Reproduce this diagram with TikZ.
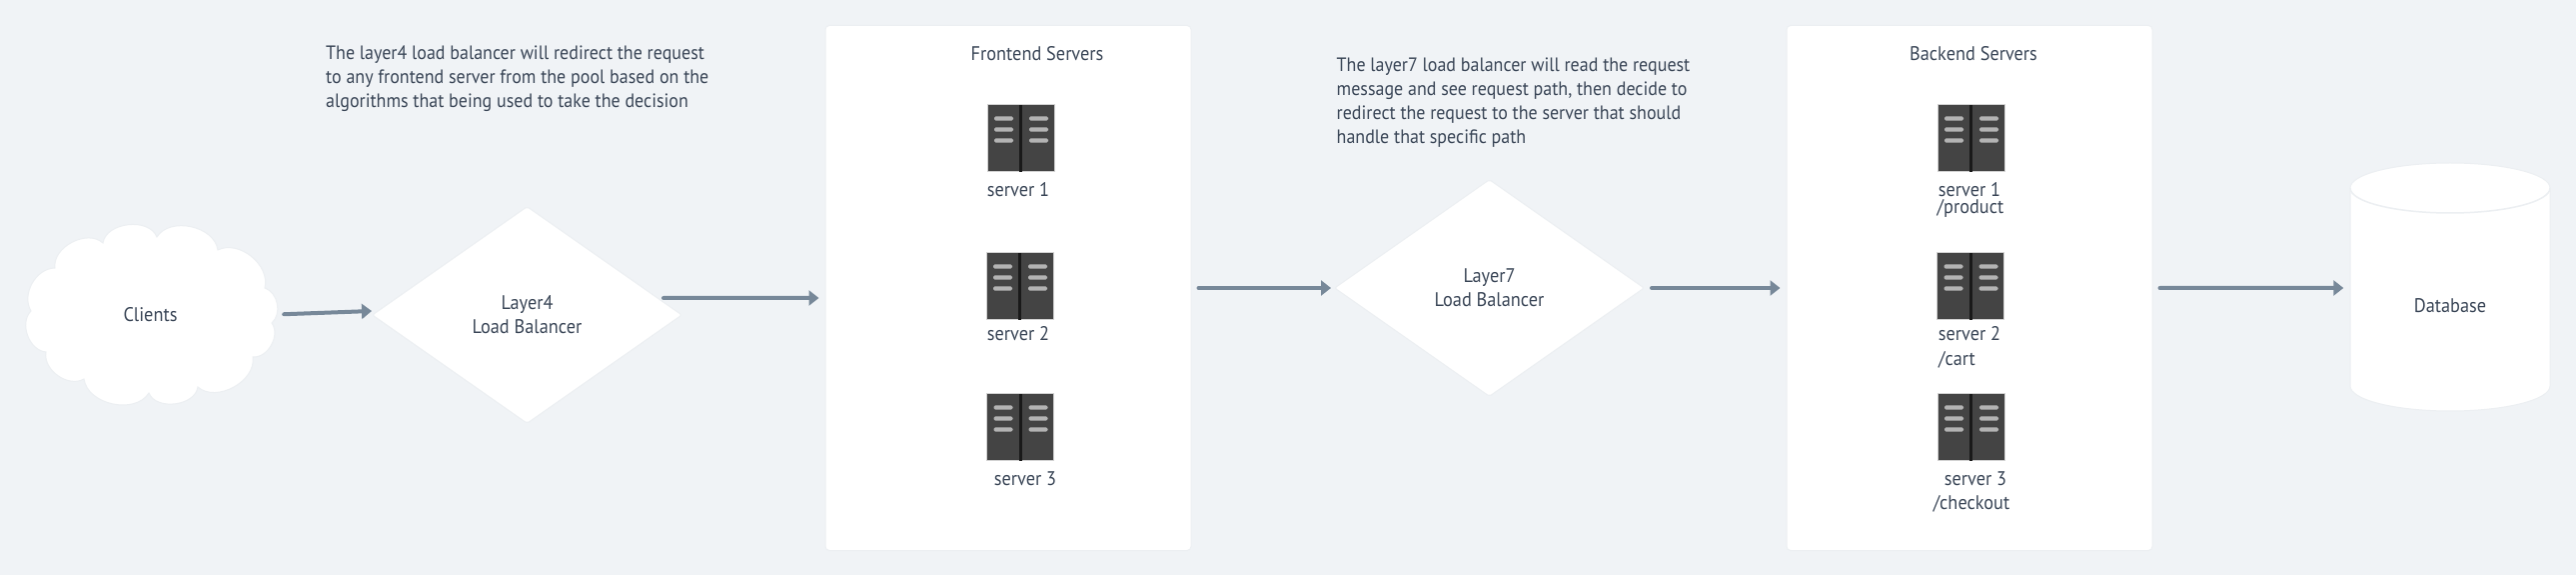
\documentclass[tikz,border=0pt]{standalone}
\usepackage{fontspec}
\setmainfont[FakeStretch=0.93]{PT Sans}
\usetikzlibrary{shapes.geometric,arrows.meta,positioning}
\definecolor{pagebg}{HTML}{F0F3F6}
\definecolor{edgeline}{HTML}{ECEFF2}
\definecolor{inktext}{HTML}{394556}
\definecolor{arrowgray}{HTML}{778899}
\definecolor{rackbody}{HTML}{444444}
\definecolor{rackbar}{HTML}{B3B3B3}

\begin{document}
\begin{tikzpicture}[font=\fontsize{5.6}{6.83}\selectfont, text=inktext,
  card/.style={draw=edgeline, fill=white, line width=0.01cm, rounded corners=0.04cm, minimum width=3.66cm, minimum height=5.25cm},
  lbnode/.style={diamond, draw=edgeline, fill=white, line width=0.01cm, rounded corners=0.02cm, inner sep=0pt, minimum width=3.1cm, minimum height=2.17cm, align=center},
  note/.style={align=left, anchor=north west, inner sep=0pt, font=\fontsize{5.5}{6.83}\selectfont},
  txt/.style={inner sep=0pt},
  flow/.style={-{Triangle[length=0.1cm, width=0.15cm]}, line width=0.04cm, draw=arrowgray, line cap=round, shorten <=0.07cm, shorten >=0.06cm},
  rack/.style={fill=rackbody, draw=rackbar!60, line width=0.01cm, minimum width=0.67cm, minimum height=0.67cm, inner sep=0pt},
  serverrack/.pic={
    \node[rack] (-box) at (0,0) {};
    \fill[black!90] (-0.015,0.335) rectangle (0.015,-0.335);
    \foreach \y in {0.2,0.09,-0.02}
      \foreach \x in {-0.265,0.085}
        \fill[rackbar, rounded corners=0.015cm] (\x,\y-0.022) rectangle ++(0.19,0.044);
  }
]
\useasboundingbox[fill=pagebg] (0,0) rectangle (25.78,-5.75);

% Cloud outline
\draw[edgeline, fill=white, line width=0.01cm] (0.55,-2.68) to[bend left=70] (1.03,-2.43) to[bend left=75] (1.57,-2.37)
  to[bend left=70] (2.18,-2.50) to[bend left=65] (2.65,-2.88) to[bend left=60] (2.72,-3.23)
  to[bend left=65] (2.53,-3.57) to[bend left=70] (1.98,-3.87) to[bend left=75] (1.49,-3.93)
  to[bend left=70] (0.84,-3.79) to[bend left=65] (0.46,-3.52) to[bend left=65] (0.31,-3.11)
  to[bend left=60] cycle;
\node[txt, minimum width=2.52cm, minimum height=1.76cm] (clients) at (1.505,-3.145) {Clients};

% Load balancers
\node[lbnode] (lbfour) at (5.275,-3.15) {Layer4\\Load Balancer};
\node[lbnode] (lbseven) at (14.905,-2.88) {Layer7\\Load Balancer};

% Notes
\node[note] (notefour) at (3.255,-0.455) {The layer4 load balancer will redirect the request\\to any frontend server from the pool based on the\\algorithms that being used to take the decision};
\node[note] (noteseven) at (13.37,-0.575) {The layer7 load balancer will read the request\\message and see request path, then decide to\\redirect the request to the server that should\\handle that specific path};

% Server cards
\node[card] (frontend) at (10.09,-2.88) {};
\node[card] (backend) at (19.71,-2.88) {};
\node[txt] (fronttitle) at (10.38,-0.54) {Frontend Servers};
\node[txt] (backtitle) at (19.75,-0.54) {Backend Servers};

% Racks
\pic (fsone) at (10.215,-1.385) {serverrack};
\pic (fstwo) at (10.205,-2.865) {serverrack};
\pic (fsthree) at (10.21,-4.275) {serverrack};
\pic (bsone) at (19.725,-1.385) {serverrack};
\pic (bstwo) at (19.72,-2.865) {serverrack};
\pic (bsthree) at (19.725,-4.275) {serverrack};

% Rack labels
\node[txt] (fsonelabel) at (10.19,-1.90) {server 1};
\node[txt] (fstwolabel) at (10.19,-3.34) {server 2};
\node[txt] (fsthreelabel) at (10.26,-4.79) {server 3};
\node[txt] (bsonelabel) at (19.71,-1.90) {server 1};
\node[txt] (bsonepath) at (19.72,-2.08) {/product};
\node[txt] (bstwolabel) at (19.71,-3.34) {server 2};
\node[txt] (bstwopath) at (19.585,-3.60) {/cart};
\node[txt] (bsthreelabel) at (19.77,-4.79) {server 3};
\node[txt] (bsthreepath) at (19.73,-5.04) {/checkout};

% Database
\node[txt, minimum width=2.0cm, minimum height=2.48cm] (db) at (24.52,-2.87) {};
\draw[edgeline, fill=white, line width=0.01cm] (23.52,-1.88) arc[x radius=1, y radius=0.25, start angle=180, end angle=0]
  -- (25.52,-3.86) arc[x radius=1, y radius=0.25, start angle=0, end angle=-180] -- cycle;
\draw[edgeline, line width=0.015cm] (23.52,-1.88) arc[x radius=1, y radius=0.25, start angle=180, end angle=360];
\node[txt] (dblabel) at (24.52,-3.06) {Database};

% Connectors
\draw[flow, shorten >=0cm] (clients.east) -- ([yshift=0.04cm]lbfour.west);
\draw[flow] ([shift={(-0.26,0.17)}]lbfour.east) -- ([yshift=-0.10cm]frontend.west);
\draw[flow, shorten >=0.03cm] (frontend.east) -- (lbseven.west);
\draw[flow] (lbseven.east) -- (backend.west);
\draw[flow] (backend.east) -- ([shift={(0,-0.01)}]db.west);
\end{tikzpicture}
\end{document}
